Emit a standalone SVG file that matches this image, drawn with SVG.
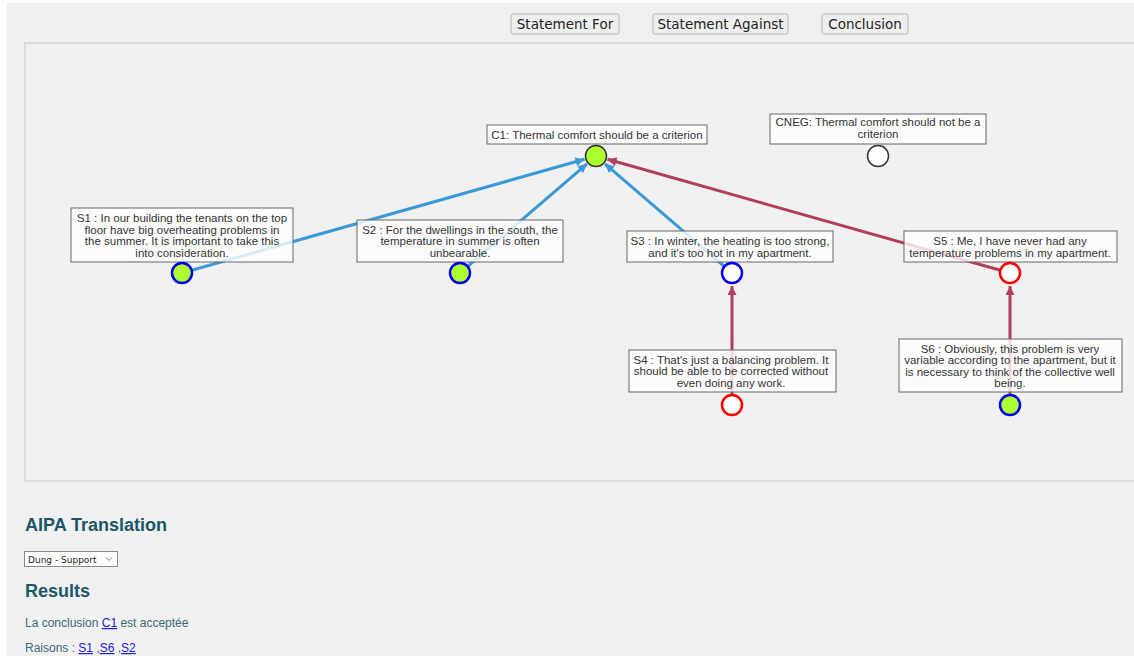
<svg xmlns="http://www.w3.org/2000/svg" width="1134" height="656" viewBox="0 0 1134 656">
<style>
.box{fill:#fff;fill-opacity:0.8;stroke:#666;stroke-width:1}
.bt{font-family:"Liberation Sans",Arial,sans-serif;font-size:11.5px;fill:#333;text-anchor:middle}
.btn{fill:#efefef;stroke:#b5b5b5;stroke-width:1}
.btt{font-family:"DejaVu Sans",Verdana,sans-serif;font-size:13.5px;fill:#222;text-anchor:middle}
.sup{stroke:#3a9ad9;stroke-width:3;fill:none}
.att{stroke:#b0405a;stroke-width:3;fill:none}
.h{font-family:"Liberation Sans",Arial,sans-serif;font-size:18px;font-weight:bold;fill:#1d5668}
.p{font-family:"Liberation Sans",Arial,sans-serif;font-size:12px;fill:#3a6878}
.lk{fill:#2020e0;text-decoration:underline}
</style>
<defs>
<marker id="ab" viewBox="0 0 10 10" refX="10" refY="5" markerWidth="11" markerHeight="9" markerUnits="userSpaceOnUse" orient="auto"><path d="M0,0L10,5L0,10z" fill="#3a9ad9"/></marker>
<marker id="ar" viewBox="0 0 10 10" refX="10" refY="5" markerWidth="11" markerHeight="9" markerUnits="userSpaceOnUse" orient="auto"><path d="M0,0L10,5L0,10z" fill="#b0405a"/></marker>
</defs>
<rect x="0" y="0" width="1134" height="656" fill="#fff"/>
<rect x="7" y="3" width="1127" height="653" fill="#f1f1f1"/>
<g id="toolbar">
<rect class="btn" x="511" y="14" width="108" height="20" rx="2"/>
<text class="btt" x="565" y="29">Statement For</text>
<rect class="btn" x="653" y="14" width="135" height="20" rx="2"/>
<text class="btt" x="720.5" y="29">Statement Against</text>
<rect class="btn" x="822" y="14" width="86" height="20" rx="2"/>
<text class="btt" x="865" y="29">Conclusion</text>
</g>
<rect x="25" y="43" width="1120" height="438" fill="#f1f1f1" stroke="#dcdcdc" stroke-width="2"/>
<g id="connectors">
<line class="sup" x1="182" y1="273" x2="584.5" y2="159.3" marker-end="url(#ab)"/>
<line class="sup" x1="460" y1="273" x2="587" y2="163.8" marker-end="url(#ab)"/>
<line class="sup" x1="732" y1="273" x2="605" y2="163.8" marker-end="url(#ab)"/>
<line class="att" x1="1010" y1="273" x2="607.5" y2="159.3" marker-end="url(#ar)"/>
<line class="att" x1="732" y1="395" x2="732" y2="286" marker-end="url(#ar)"/>
<line class="att" x1="1010" y1="395" x2="1010" y2="286" marker-end="url(#ar)"/>
</g>
<g id="C1">
<rect class="box" x="487" y="125" width="220" height="19"/>
<text class="bt" x="597" y="138.5">C1: Thermal comfort should be a criterion</text>
<circle cx="596" cy="156" r="10.5" fill="#adff2f" stroke="#333" stroke-width="1.5"/>
</g>
<g id="CNEG">
<rect class="box" x="770" y="114" width="216" height="30"/>
<text class="bt" x="878" y="126">CNEG: Thermal comfort should not be a</text>
<text class="bt" x="878" y="138">criterion</text>
<circle cx="878" cy="156" r="10.5" fill="#fff" stroke="#333" stroke-width="1.5"/>
</g>
<g id="S1">
<rect class="box" x="71" y="208" width="222" height="54"/>
<text class="bt" x="182" y="222">S1 : In our building the tenants on the top</text>
<text class="bt" x="182" y="233.5">floor have big overheating problems in</text>
<text class="bt" x="182" y="245">the summer. It is important to take this</text>
<text class="bt" x="182" y="256.5">into consideration.</text>
<circle cx="182" cy="273" r="10" fill="#adff2f" stroke="#0000ee" stroke-width="2.5"/>
</g>
<g id="S2">
<rect class="box" x="357" y="220" width="206" height="42"/>
<text class="bt" x="460" y="233.5">S2 : For the dwellings in the south, the</text>
<text class="bt" x="460" y="245">temperature in summer is often</text>
<text class="bt" x="460" y="256.5">unbearable.</text>
<circle cx="460" cy="273" r="10" fill="#adff2f" stroke="#0000ee" stroke-width="2.5"/>
</g>
<g id="S3">
<rect class="box" x="627" y="231" width="206" height="31"/>
<text class="bt" x="730" y="245">S3 : In winter, the heating is too strong,</text>
<text class="bt" x="730" y="256.5">and it's too hot in my apartment.</text>
<circle cx="732" cy="273" r="10" fill="#fff" stroke="#0000ee" stroke-width="2.5"/>
</g>
<g id="S5">
<rect class="box" x="904" y="231" width="213" height="31"/>
<text class="bt" x="1010" y="245">S5 : Me, I have never had any</text>
<text class="bt" x="1010" y="256.5">temperature problems in my apartment.</text>
<circle cx="1010" cy="273" r="10" fill="#fff" stroke="#ff0000" stroke-width="2.5"/>
</g>
<g id="S4">
<rect class="box" x="629" y="350" width="207" height="42"/>
<text class="bt" x="731" y="363.5">S4 : That's just a balancing problem. It</text>
<text class="bt" x="731" y="375">should be able to be corrected without</text>
<text class="bt" x="731" y="386.5">even doing any work.</text>
<circle cx="732" cy="405" r="10" fill="#fff" stroke="#ff0000" stroke-width="2.5"/>
</g>
<g id="S6">
<rect class="box" x="899" y="339" width="223" height="53"/>
<text class="bt" x="1010" y="352.5">S6 : Obviously, this problem is very</text>
<text class="bt" x="1010" y="364">variable according to the apartment, but it</text>
<text class="bt" x="1010" y="375.5">is necessary to think of the collective well</text>
<text class="bt" x="1010" y="387">being.</text>
<circle cx="1010" cy="405" r="10" fill="#adff2f" stroke="#0000ee" stroke-width="2.5"/>
</g>
<g id="results">
<text class="h" x="25" y="531">AIPA Translation</text>
<rect x="24.5" y="551.5" width="93" height="15" fill="#fff" stroke="#888" stroke-width="1"/>
<text x="28" y="562.5" font-family="DejaVu Sans,sans-serif" font-size="9px" fill="#222">Dung - Support</text>
<path d="M106,557.5l3,3l3,-3" fill="none" stroke="#555" stroke-width="0.8"/>
<text class="h" x="25" y="597">Results</text>
<text class="p" x="25" y="627">La conclusion <tspan class="lk">C1</tspan> est acceptée</text>
<text class="p" x="25" y="652">Raisons : <tspan class="lk">S1</tspan> ,<tspan class="lk">S6</tspan> ,<tspan class="lk">S2</tspan></text>
</g>
</svg>
